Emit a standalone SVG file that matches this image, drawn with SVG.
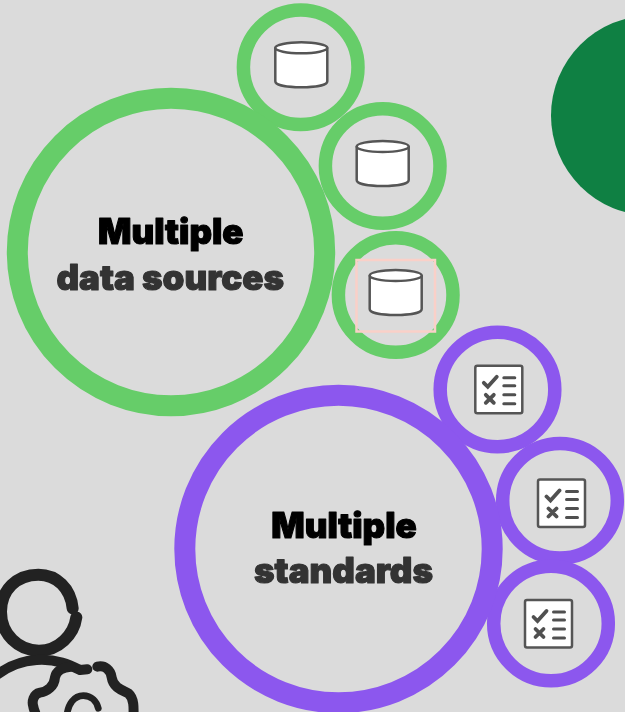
<svg xmlns="http://www.w3.org/2000/svg" width="625" height="712" viewBox="0 0 625 712">
<style>
.g{fill:none;stroke:#66cd69}
.p{fill:none;stroke:#8c57ee}
.s{stroke-width:13.500}
.b{stroke-width:21}
text{font-family:"Inter","Liberation Sans",sans-serif;font-weight:900;font-size:35px;text-anchor:middle;stroke-linejoin:round;filter:url(#flat)}
.t1{fill:#000;stroke:#000;stroke-width:1.100}
.t2{fill:#333;stroke:#333;stroke-width:1.100}
.ic{stroke:#555;stroke-width:2.500;fill:#fff;stroke-linejoin:round}
.ln{stroke:#505050;stroke-width:3;fill:none;stroke-linecap:round}
.pi{fill:none;stroke:#222;stroke-linecap:round;stroke-linejoin:round}
</style>
<defs>
<filter id="flat" x="-5%" y="-20%" width="110%" height="140%"><feOffset dx="0" dy="0"/></filter>
<g id="cyl">
<path class="ic" d="M-26-19V14C-26 18-14 20 0 20S26 18 26 14V-19Z"/>
<ellipse class="ic" cx="0" cy="-19.500" rx="26" ry="5.500"/>
</g>
<g id="chk">
<rect class="ic" x="-23.500" y="-24" width="47" height="47.500" rx="2"/>
<path class="ln" style="stroke-width:3.800" d="M-15-7-11-3-2-13M-13 5-5 13M-5 5-13 13"/>
<path class="ln" d="M5-12H16M5-4H16M5 5H16M5 14H16"/>
</g>
</defs>
<rect width="625" height="712" fill="#dbdbdb"/>
<circle id="accent" cx="651" cy="115.500" r="100" fill="#0f8043"/>
<g id="person" transform="translate(0 560) scale(.3333)">
<path class="pi" stroke-width="36" d="M218 145C212 85 170 44 115 44C50 44 3 90 3 155C3 222 55 272 117 272C175 272 222 225 229 172"/>
<path class="pi" stroke-width="30" d="M-10 345C30 315 70 302 110 300C170 296 210 315 240 330L262 328"/>
<path class="pi" stroke-width="30" d="M212 320C185 322 168 335 165 352C163 380 140 395 120 398C100 402 95 425 100 440C103 455 110 465 110 480M292 320C315 315 332 330 335 352C340 385 370 392 385 400C402 415 402 440 400 480"/>
<path class="pi" stroke-width="20" d="M200 480C200 430 225 407 250 407C275 407 290 425 295 445"/>
</g>
<g id="source-1"><circle class="g s" cx="300.700" cy="67.300" r="57.300"/><use href="#cyl" x="301.300" y="67.300"/></g>
<g id="source-2"><circle class="g s" cx="382.700" cy="166" r="57.300"/><use href="#cyl" x="382.700" y="166"/></g>
<g id="source-3"><circle class="g s" cx="395.700" cy="295" r="57.300"/><rect x="356.500" y="260" width="78.500" height="71.500" fill="none" stroke="#fad0c8" stroke-width="2.500"/><use href="#cyl" x="395.700" y="295"/></g>
<g id="data-sources"><circle class="g b" cx="171" cy="252" r="153.700"/>
<text class="t1" x="170.800" y="244.300">Multiple</text>
<text class="t2" x="170.300" y="290">data sources</text></g>
<g id="standard-1"><circle class="p s" cx="497.500" cy="389.500" r="57.300"/><use href="#chk" x="498.800" y="389.800"/></g>
<g id="standard-2"><circle class="p s" cx="560" cy="500.700" r="57.300"/><use href="#chk" x="561.500" y="503.500"/></g>
<g id="standard-3"><circle class="p s" cx="551" cy="623.500" r="57.300"/><use href="#chk" x="548.500" y="624"/></g>
<g id="standards"><circle class="p b" cx="338.500" cy="549" r="153.700"/>
<text class="t1" x="344" y="538">Multiple</text>
<text class="t2" x="343.500" y="583">standards</text></g>
<g id="connectors"></g>
</svg>
